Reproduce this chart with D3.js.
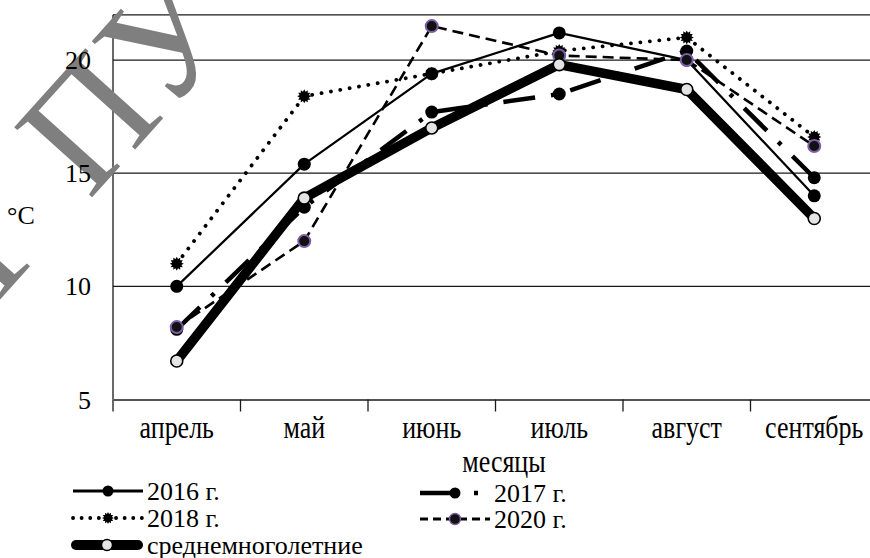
<!DOCTYPE html>
<html><head><meta charset="utf-8">
<script src="https://cdn.jsdelivr.net/npm/d3@7"></script>
<style>
body{margin:0;background:#fff}
svg text{font-family:"Liberation Serif","Times New Roman",serif;fill:#000}
</style>
</head><body>
<svg id="chart" width="870" height="558" font-family="Liberation Serif"></svg>
<script>
// ---- data ----
const months = ["апрель","май","июнь","июль","август","сентябрь"];
const s2016 = [10.0, 15.4, 19.4, 21.2, 20.0, 14.0];
const s2017 = [8.1, 13.5, 17.7, 18.5, 20.4, 14.8];
const s2018 = [11.0, 18.4, 19.4, 20.4, 21.0, 16.6];
const s2020 = [8.2, 12.0, 21.5, 20.2, 20.0, 16.2];
const sAvg  = [6.7, 13.9, 17.0, 19.8, 18.7, 13.0];
const yTicks = [5, 10, 15, 20];
const seriesNames = ["2016 г.", "2017 г.", "2018 г.", "2020 г.", "среднемноголетние"];
const yUnit = "°С";
const xTitle = "месяцы";
const watermarkParts = ["Г", "ПУ им"];

// ---- layout ----
const FS = 26;
const svg = d3.select("#chart");
svg.append("rect").attr("width",870).attr("height",558).attr("fill","#fff");

const x = d3.scaleBand().domain(months).range([113, 878]).padding(0);
const y = d3.scaleLinear().domain([5, 22]).range([399.5, 14.8]);
const cx = m => x(m) + x.bandwidth()/2;

// gridlines
svg.append("g").selectAll("line").data(yTicks.filter(v => v > 5).concat([22])).join("line")
  .attr("x1", 113).attr("x2", 870)
  .attr("y1", d => y(d)).attr("y2", d => y(d))
  .attr("stroke", "#1a1a1a").attr("stroke-width", 1.3);

// x axis line + ticks at band edges
const xAxis = d3.axisBottom(x).tickSize(0).tickFormat("");
svg.append("g").attr("transform", `translate(0,${y(5)})`).call(xAxis)
  .call(g => g.select(".domain").attr("stroke","#1a1a1a").attr("stroke-width",1.3));
svg.append("g").selectAll("line").data(months.concat(["__end"])).join("line")
  .attr("x1", d => d === "__end" ? x.range()[1] : x(d))
  .attr("x2", d => d === "__end" ? x.range()[1] : x(d))
  .attr("y1", y(5)).attr("y2", y(5) + 12)
  .attr("stroke", "#1a1a1a").attr("stroke-width", 1.3);

// y axis line
svg.append("line").attr("x1",113).attr("x2",113).attr("y1",y(22)).attr("y2",y(5))
  .attr("stroke","#1a1a1a").attr("stroke-width",1.3);

// watermark
const wm = svg.append("text")
  .attr("transform","translate(-3,303) rotate(-48)")
  .attr("font-size",160).style("fill","#7f7f7f");
wm.append("tspan").text(watermarkParts[0]);
wm.append("tspan").attr("dx",45).text(watermarkParts[1]);

// y tick labels
const yAxis = d3.axisLeft(y).tickValues(yTicks).tickSize(0).tickPadding(22);
svg.append("g").attr("transform","translate(113,0)").call(yAxis)
  .call(g => g.select(".domain").remove())
  .call(g => g.attr("font-family","Liberation Serif").attr("font-size",FS))
  .call(g => g.selectAll("text").attr("dy","0.33em"));

svg.append("text").text(yUnit).attr("x",7).attr("y",224).attr("font-size",FS);

// x labels (slightly tall, as in the reference)
svg.append("g").selectAll("text").data(months).join("text")
  .attr("transform", d => `translate(${cx(d)},438) scale(1,1.2)`)
  .attr("text-anchor","middle")
  .attr("font-size",FS).text(d => d);
svg.append("text").text(xTitle)
  .attr("transform","translate(504,472) scale(1,1.2)")
  .attr("text-anchor","middle").attr("font-size",FS);

// ---- markers ----
const starType = {
  draw(ctx, size) {
    const R = 7, r = 4.8, n = 12;
    for (let i = 0; i < 2*n; i++) {
      const a = i * Math.PI / n - Math.PI/2;
      const rr = i % 2 ? r : R;
      const px = rr*Math.cos(a), py = rr*Math.sin(a);
      if (i === 0) ctx.moveTo(px, py); else ctx.lineTo(px, py);
    }
    ctx.closePath();
  }
};

const styles = [
  {data: s2016, width: 2.2, dash: null, cap:"butt", marker: "circle", r: 6.5, fill:"#000", stroke:"#000", sw:0},
  {data: s2017, width: 4.5, dash: "32,16,4,16", cap:"butt", marker: "circle", r: 6.5, fill:"#000", stroke:"#000", sw:0},
  {data: s2018, width: 3.8, dash: "0.1,9.4", cap:"round", marker: "star", r: 6.5, fill:"#000", stroke:"#000", sw:0},
  {data: s2020, width: 2.6, dash: "11,6", cap:"butt", marker: "circle", r: 6, fill:"#111", stroke:"#7b5ea7", sw:2},
  {data: sAvg,  width: 9.5, dash: null, cap:"round", marker: "circle", r: 6, fill:"#e4e4e4", stroke:"#000", sw:1.6}
];

const line = d3.line().x((d,i) => cx(months[i])).y(d => y(d));

styles.forEach(s => {
  const g = svg.append("g");
  g.append("path").attr("d", line(s.data)).attr("fill","none")
    .attr("stroke","#000").attr("stroke-width", s.width)
    .attr("stroke-dasharray", s.dash).attr("stroke-linecap", s.cap)
    .attr("stroke-linejoin","round");
  if (s.marker === "star") {
    g.selectAll("path.m").data(s.data).join("path").attr("class","m")
      .attr("d", d3.symbol().type(starType)())
      .attr("transform",(d,i) => `translate(${cx(months[i])},${y(d)})`)
      .attr("fill", s.fill);
  } else {
    g.selectAll("circle").data(s.data).join("circle")
      .attr("cx",(d,i) => cx(months[i])).attr("cy", d => y(d)).attr("r", s.r)
      .attr("fill", s.fill).attr("stroke", s.stroke).attr("stroke-width", s.sw);
  }
});

// ---- legend ----
const legendPos = [
  {x: 73, y: 491}, {x: 420, y: 493}, {x: 73, y: 518}, {x: 420, y: 519}, {x: 71, y: 545}
];
const legendWidth = [2.8, 4.5, 3.8, 3.2, 10];
const legendDash = [null, "35,19,4,40", "0.1,8.5", "8,5", null];
styles.forEach((s, i) => {
  const p = legendPos[i];
  const g = svg.append("g").attr("transform", `translate(${p.x},${p.y})`);
  const len = i === 4 ? 72 : 70;
  g.append("line").attr("x1", i === 4 ? 5 : 0).attr("x2", i === 4 ? len - 5 : len).attr("y1",0).attr("y2",0)
    .attr("stroke","#000").attr("stroke-width", legendWidth[i])
    .attr("stroke-dasharray", legendDash[i])
    .attr("stroke-linecap", s.cap);
  if (s.marker === "star") {
    g.append("path").attr("d", d3.symbol().type(starType)())
      .attr("transform", `translate(${len/2},0) scale(0.85)`).attr("fill","#000");
  } else {
    g.append("circle").attr("cx", i===1 ? 35 : len/2).attr("cy",0).attr("r", 5.5)
      .attr("fill", s.fill).attr("stroke", s.stroke).attr("stroke-width", s.sw ? 1.4 : 0);
  }
  g.append("text").text(seriesNames[i]).attr("x", len + 4).attr("y", 8.5).attr("font-size",FS);
});
</script>
</body></html>
